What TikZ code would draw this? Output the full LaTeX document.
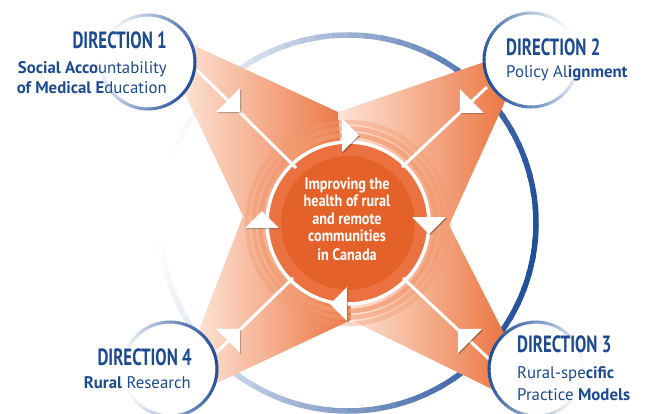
\documentclass[tikz,border=0pt]{standalone}
\usepackage{fontspec}
\setmainfont{PT Sans}
\newfontfamily\headfont[FakeStretch=0.72]{PT Sans}
\newfontfamily\hubfont[FakeStretch=0.86]{PT Sans}
\usepackage{tikz}
\usetikzlibrary{calc}

\definecolor{dirblue}{HTML}{1F4E9A}
\definecolor{labelblue}{HTML}{1D4B8F}
\definecolor{huborange}{HTML}{E5612A}
\definecolor{hubband}{HTML}{EB7240}
\definecolor{ringpeach}{HTML}{F29A70}
\definecolor{spikelight}{HTML}{FDE4D6}
\definecolor{spikedark}{HTML}{EC7440}

\begin{document}
\begin{tikzpicture}[x=1pt, y=-1pt,
		flow line/.style={white, line width=3pt},
		head label/.style={inner sep=0pt, text=labelblue, font=\headfont\bfseries\fontsize{23.5}{23}\selectfont},
		body label/.style={inner sep=0pt, text=labelblue, font=\fontsize{16.8}{20}\selectfont},
		hub label/.style={inner sep=0pt, text=white, align=center, font=\hubfont\bfseries\fontsize{16.5}{17.5}\selectfont}]
			\def\R{188};
			\def\rs{47};
			\def\rhub{81};

			\fill[white] (0,0) rectangle (665,413);
			\useasboundingbox (0,0) rectangle (665,413);

			\coordinate (hub) at (348,223);
			\coordinate (dir1) at (148,62);
			\coordinate (dir2) at (531,60);
			\coordinate (dir3) at (536,369);
			\coordinate (dir4) at (170,369);

			\coordinate (top notch) at (338,112);
			\coordinate (right notch) at (449,225);
			\coordinate (bottom notch) at (351,320);
			\coordinate (left notch) at (243,216);

			% big ring, dark towards the right
			\foreach \a in {0,5,...,355}
			{
				\pgfmathsetmacro{\p}{int(50+50*cos(\a-5))}
				\draw[dirblue!\p!white, line width=5.5pt] ($(hub)+(\a:\R)$) arc[start angle=\a, end angle=\a+6, radius=\R];
			}

			\begin{scope}
				\shade[left color=spikelight, right color=spikedark] (182,40) -- (top notch) -- (hub) -- (left notch) -- (180,84) -- cycle;
				\shade[left color=spikelight, right color=spikedark] (top notch) -- (499,57) -- (511,88) -- (right notch) -- (hub) -- cycle;
				\shade[left color=spikelight, right color=spikedark] (right notch) -- (508,341) -- (504,395) -- (bottom notch) -- (hub) -- cycle;
				\shade[left color=spikelight, right color=spikedark] (left notch) -- (hub) -- (bottom notch) -- (204,389) -- (196,338) -- cycle;
			\end{scope}

			\begin{scope}
				\foreach \rad/\op in {101/0.4, 94.5/0.55, 88/0.75}
				{
					\draw[ringpeach, opacity=\op, line width=4.5pt] (hub) circle[radius=\rad];
				}
				\fill[hubband] (hub) circle[radius=80];
				\draw[white, line width=3.5pt] (hub) circle[radius=\rhub];
				\fill[huborange] (hub) circle[radius=67];
			\end{scope}

			\coordinate (line1 start) at (197,70);
			\coordinate (line1 end) at (296,168);
			\coordinate (line2 start) at (487,87);
			\coordinate (line2 end) at (402,167);
			\coordinate (line3 start) at (490,360);
			\coordinate (line3 end) at (403,278);
			\coordinate (line4 start) at (217,352);
			\coordinate (line4 end) at (293,278);

			\draw[flow line] (line1 start) -- (line1 end);
			\draw[flow line] (line2 start) -- (line2 end);
			\draw[flow line] (line3 start) -- (line3 end);
			\draw[flow line] (line4 start) -- (line4 end);

			% arrow heads, on the spokes and round the hub
			\foreach \x/\y/\ang in {228/100/-45, 472/101/-135, 470/341/135, 228/341/45, 342/135/0, 429/217/-90, 347/304/180, 262/228/90}
			{
				\fill[black, opacity=0.3, shift={(\x,\y)}, xshift=1.2pt, yshift=-1.2pt, rotate=\ang] (0,-17) -- (17,0) -- (0,17) -- cycle;
				\fill[white, shift={(\x,\y)}, rotate=\ang] (0,-17) -- (17,0) -- (0,17) -- cycle;
			}

			% direction circles, dark on the side that faces the hub
			\foreach \c/\d in {dir1/15, dir2/160, dir3/190, dir4/350}
			{
				\fill[white] (\c) circle[radius=\rs];
				\foreach \a in {0,5,...,355}
				{
					\pgfmathsetmacro{\p}{int(50+50*cos(\a-\d))}
					\draw[dirblue!\p!white, line width=3pt] ($(\c)+(\a:\rs)$) arc[start angle=\a, end angle=\a+6, radius=\rs];
				}
			}

			\node[hub label] (hub text) at (347,219) {Improving the\\health of rural\\and remote\\communities\\[1.5pt]in Canada};

			\node[head label, anchor=base east] (dir1 head) at (167,48) {DIRECTION 1};
			\node[body label, anchor=base east] (dir1 line a) at (167,73) {\textbf{Social Acco}untability};
			\node[body label, anchor=base east] (dir1 line b) at (167,93) {\textbf{of Medical E}ducation};

			\node[head label, anchor=base west] (dir2 head) at (506,55) {DIRECTION 2};
			\node[body label, anchor=base west] (dir2 line a) at (506,77) {Policy Al\textbf{ignment}};

			\node[head label, anchor=base west] (dir3 head) at (517,352) {DIRECTION 3};
			\node[body label, anchor=base west] (dir3 line a) at (517,378) {Rural-spe\textbf{cific}};
			\node[body label, anchor=base west] (dir3 line b) at (517,400) {Practice \textbf{Models}};

			\node[head label, anchor=base east] (dir4 head) at (192,365) {DIRECTION 4};
			\node[body label, anchor=base east] (dir4 line a) at (191,388) {\textbf{Rural} Research};
		\end{tikzpicture}
\end{document}
